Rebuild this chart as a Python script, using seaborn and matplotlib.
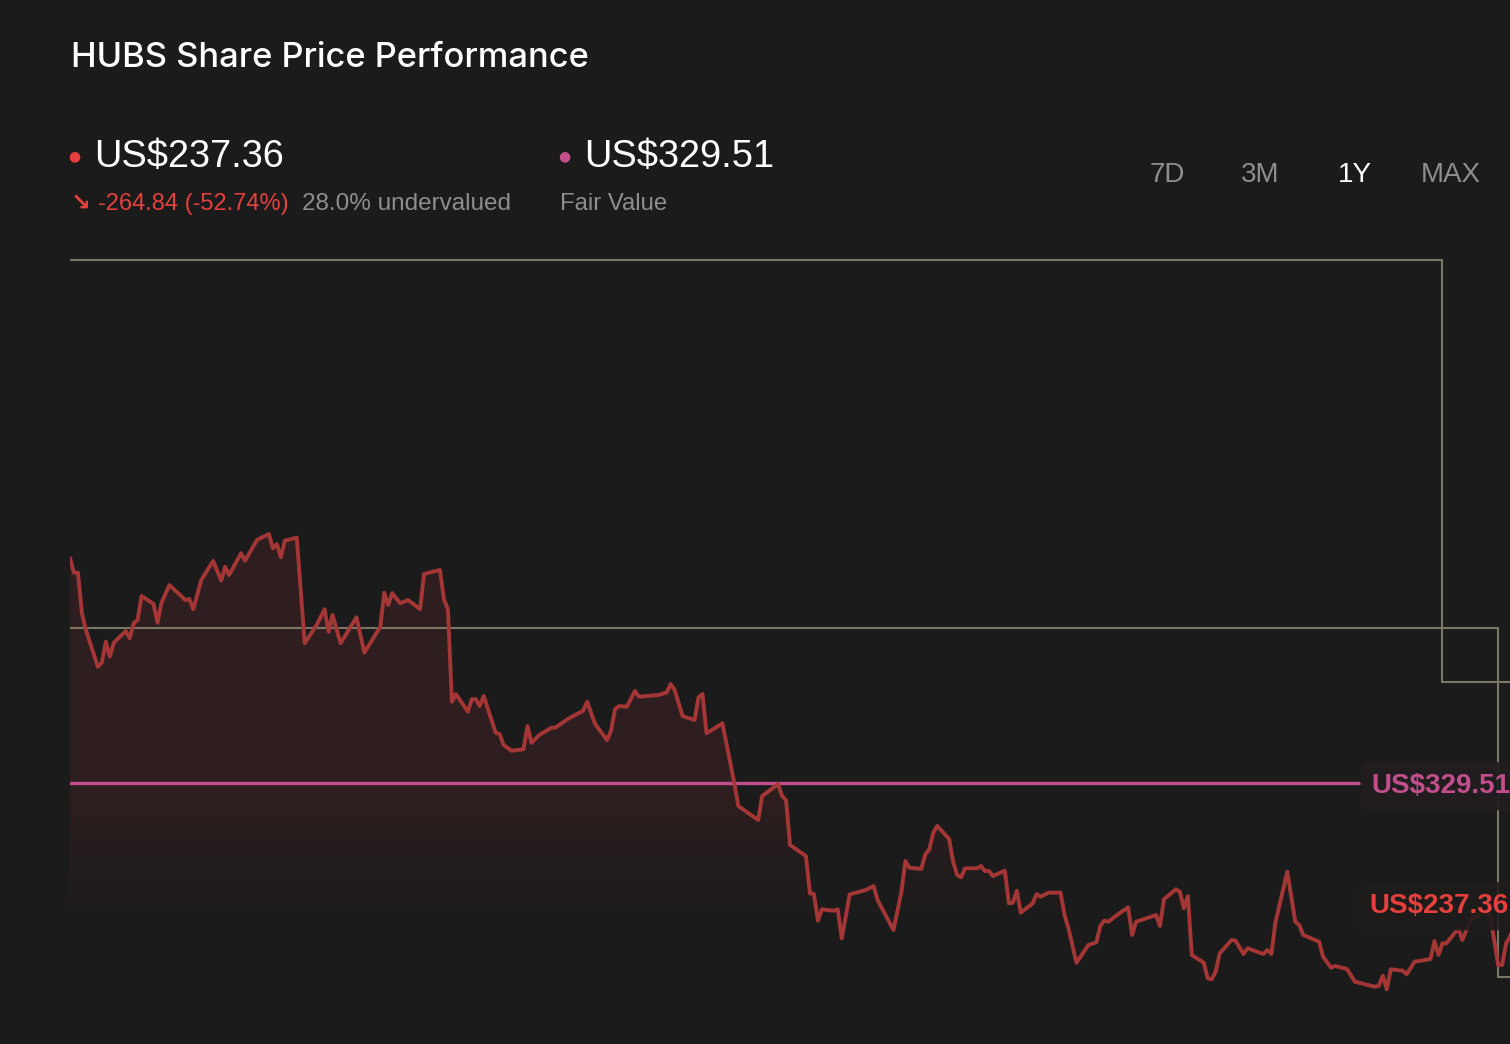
import numpy as np
import pandas as pd
import matplotlib
matplotlib.use("Agg")
import matplotlib.pyplot as plt
import seaborn as sns

# HUBS share price, 1Y (calendar day offset, US$)
days = [0, 1, 2, 3, 4, 7, 8, 9, 10, 11, 14, 15, 16, 17, 18, 21, 22, 23, 25, 29,
        30, 31, 33, 36, 38, 39, 40, 43, 44, 47, 50, 51, 52, 53, 54, 57, 58, 59, 62, 64,
        65, 66, 68, 72, 74, 78, 79, 80, 81, 83, 85, 88, 89, 93, 94, 95, 96, 97, 100, 101,
        102, 103, 104, 107, 108, 109, 111, 114, 115, 116, 118, 121, 122, 125, 129, 130, 132, 135, 136, 137,
        138, 140, 142, 143, 148, 150, 151, 152, 154, 157, 158, 159, 160, 164, 167, 168, 173, 174, 178, 179,
        180, 181, 185, 186, 187, 188, 189, 192, 193, 194, 196, 200, 202, 203, 207, 209, 210, 211, 214, 215,
        216, 217, 218, 221, 222, 223, 224, 225, 228, 229, 230, 231, 232, 235, 236, 237, 238, 239, 242, 243,
        244, 246, 249, 250, 251, 253, 256, 258, 259, 260, 261, 264, 266, 267, 268, 273, 274, 275, 278, 279,
        280, 281, 282, 285, 286, 287, 288, 289, 292, 293, 295, 296, 300, 301, 302, 303, 306, 308, 309, 310,
        314, 315, 317, 318, 321, 323, 328, 329, 330, 331, 332, 335, 336, 338, 342, 343, 344, 345, 346, 349,
        350, 352, 355, 357, 359, 360, 361, 362, 365]
prices = [502.2, 491.0, 491.0, 459.8, 447.0, 418.8, 421.9, 438.0, 426.5, 437.2, 446.2, 440.6, 452.1, 454.7, 473.1, 467.0, 452.6, 468.0, 481.5, 470.0,
          470.8, 462.9, 485.4, 500.0, 484.8, 495.6, 489.2, 505.9, 500.2, 516.1, 520.7, 509.7, 513.0, 502.8, 515.6, 517.9, 477.7, 436.8, 450.8, 462.9,
          445.7, 458.5, 436.8, 456.7, 429.6, 449.5, 475.6, 466.2, 475.2, 467.5, 470.0, 462.9, 490.0, 493.1, 470.6, 462.9, 391.9, 397.8, 384.3, 393.8,
          393.8, 388.6, 396.3, 368.1, 367.1, 358.7, 354.3, 355.4, 373.3, 360.4, 366.4, 372.0, 372.0, 378.4, 385.0, 391.9, 374.8, 362.5, 369.7, 386.1,
          388.6, 388.1, 400.1, 395.8, 397.1, 399.1, 405.5, 400.9, 380.9, 377.9, 395.3, 397.8, 367.7, 375.3, 329.3, 311.8, 301.1, 319.5, 328.7, 319.5,
          316.4, 281.9, 273.4, 244.8, 244.3, 223.8, 232.5, 231.4, 232.5, 210.2, 244.0, 247.3, 250.4, 239.7, 216.6, 246.0, 269.6, 264.5, 263.5, 274.7,
          278.6, 291.3, 296.5, 286.5, 269.1, 258.9, 257.1, 264.0, 264.0, 265.8, 261.9, 261.9, 258.1, 262.2, 237.1, 237.6, 246.8, 229.9, 237.1, 244.3,
          242.2, 245.3, 245.3, 228.1, 217.9, 191.5, 205.1, 207.2, 219.7, 223.8, 223.0, 229.9, 234.0, 212.8, 223.0, 228.1, 219.7, 240.2, 247.9, 246.0,
          233.3, 242.7, 197.4, 191.5, 179.5, 178.8, 184.6, 198.7, 208.9, 208.4, 198.2, 202.6, 198.2, 201.3, 198.2, 222.2, 261.4, 223.0, 220.5, 212.8,
          207.6, 196.1, 187.7, 189.0, 186.7, 176.9, 173.1, 173.8, 181.5, 171.1, 186.4, 185.4, 182.6, 192.3, 194.3, 208.2, 197.4, 206.4, 206.4, 217.9,
          208.9, 224.3, 229.9, 228.1, 189.7, 189.7, 206.4, 211.5, 237.36]

# grey step levels
upper_days = [0, 345, 365]
upper_vals = [731.1, 407.1, 407.1]
lower_days = [0, 359, 365]
lower_vals = [448.5, 180.5, 180.5]

fair_value = 329.51
last_price = 237.36
change = -264.84
change_pct = -52.74
undervalued = 28.0
periods = ["7D", "3M", "1Y", "MAX"]
active_period = "1Y"

BG = "#1b1b1b"
RED = "#a53636"
RED_TXT = "#e5403d"
PINK = "#c24f8c"
GREY_LINE = "#7a7765"
GREY_TXT = "#8e8e8e"

sns.set_theme(style="dark")
plt.rcParams["font.family"] = ["Liberation Sans", "DejaVu Sans"]

W, H = 1510, 1044
fig = plt.figure(figsize=(W / 100, H / 100), dpi=100, facecolor=BG)
ax = fig.add_axes([70 / W, 0, 1452 / W, 814 / H])
ax.set_facecolor(BG)
ax.set_xlim(0, 365)
ax.set_ylim(129.1, 754.1)
ax.set_axis_off()

df = pd.DataFrame({"day": days, "price": prices})

# gradient fill under the price line
ylo, yhi = ax.get_ylim()
levels = np.linspace(ylo, yhi, 400)
alpha = np.interp(levels, [222, 240, 283, 316, 335, 760], [0, 0.035, 0.08, 0.14, 0.15, 0.16])
grad = np.zeros((len(levels), 1, 4))
grad[..., 0] = 163 / 255
grad[..., 1] = 52 / 255
grad[..., 2] = 56 / 255
grad[:, 0, 3] = alpha
poly = ax.fill_between(df["day"], df["price"], ylo, color="none", lw=0)
img = ax.imshow(grad, extent=[0, 365, ylo, yhi], origin="lower", aspect="auto", zorder=1)
img.set_clip_path(poly.get_paths()[0], transform=ax.transData)

sns.lineplot(x=upper_days, y=upper_vals, ax=ax, color=GREY_LINE, lw=1.5,
             drawstyle="steps-post", zorder=2)
sns.lineplot(x=lower_days, y=lower_vals, ax=ax, color=GREY_LINE, lw=1.5,
             drawstyle="steps-post", zorder=2)
ax.axhline(fair_value, xmin=0, xmax=0.888, color=PINK, lw=2.4, zorder=3)
sns.lineplot(data=df, x="day", y="price", ax=ax, color=RED, lw=2.8, zorder=4)
ax.set_xlim(0, 365)
ax.set_ylim(ylo, yhi)

tr = ax.get_yaxis_transform()
ax.text(0.8965, fair_value - 2.5, f"US${fair_value:.2f}", transform=tr, color=PINK,
        fontsize=20, fontweight="bold", va="center", ha="left", zorder=6,
        bbox=dict(boxstyle="round,pad=0.4,rounding_size=0.3", fc="#221e20", ec="none", alpha=0.95))
ax.text(0.895, last_price - 2.5, f"US${last_price:.2f}", transform=tr, color=RED_TXT,
        fontsize=20, fontweight="bold", va="center", ha="left", zorder=6,
        bbox=dict(boxstyle="round,pad=0.4,rounding_size=0.3", fc="#1f1c1c", ec="none", alpha=0.9))

# header
def fx(px):
    return px / W


def fy(px):
    return 1 - px / H


fig.text(fx(71), fy(58), "HUBS Share Price Performance", color="white", fontsize=24.8,
         family=["Inter", "DejaVu Sans"], fontweight="medium", va="center")
fig.text(fx(68), fy(156), "●", color=RED_TXT, fontsize=10, va="center", family="DejaVu Sans")
fig.text(fx(94), fy(157), f"US${last_price:.2f}", color="white", fontsize=27.4, va="center")
fig.text(fx(558), fy(156), "●", color=PINK, fontsize=10, va="center", family="DejaVu Sans")
fig.text(fx(584), fy(157), f"US${fair_value:.2f}", color="white", fontsize=27.4, va="center")
fig.text(fx(71), fy(204), "↘", color=RED_TXT, fontsize=17, va="center",
         family="DejaVu Sans", fontweight="bold")
fig.text(fx(98), fy(204), f"{change:.2f} ({change_pct:.2f}%)", color=RED_TXT, fontsize=17, va="center")
fig.text(fx(302), fy(204), f"{undervalued:.1f}% undervalued", color=GREY_TXT, fontsize=17.5, va="center")
fig.text(fx(560), fy(204), "Fair Value", color=GREY_TXT, fontsize=17.2, va="center")

for label, px in zip(periods, [1150, 1241, 1338, 1421]):
    fig.text(fx(px), fy(175), label, color="white" if label == active_period else GREY_TXT,
             fontsize=20, va="center")

fig.savefig("out.png", dpi=100, facecolor=BG)
